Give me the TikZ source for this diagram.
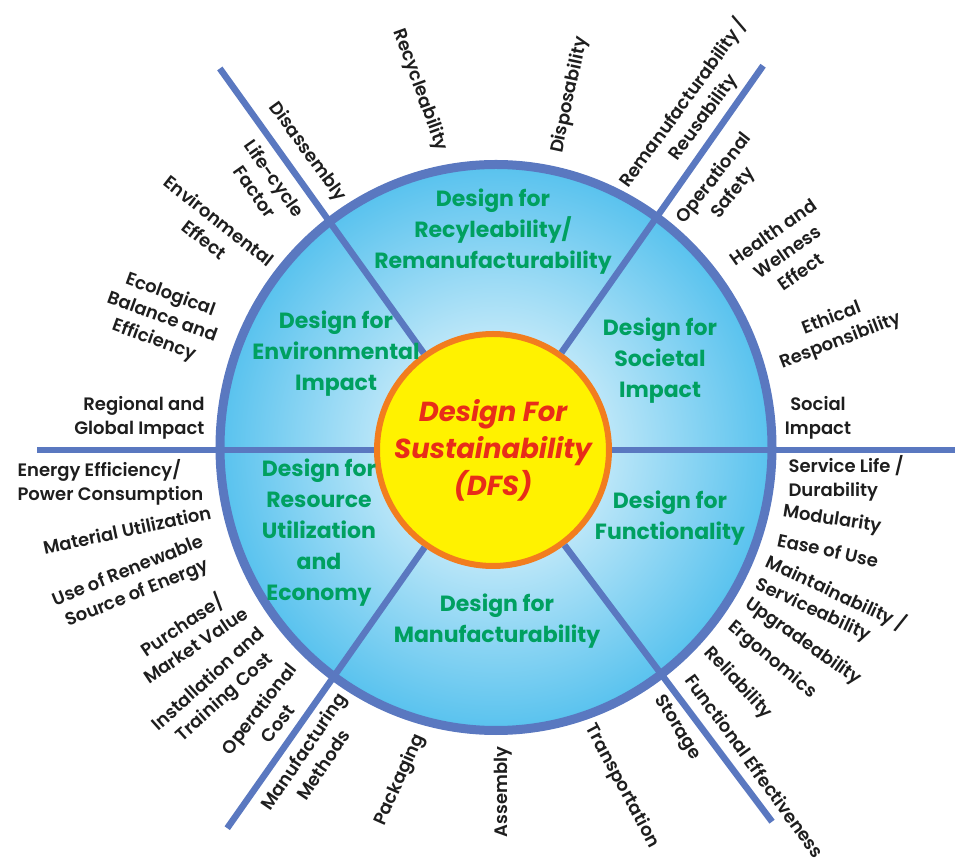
\documentclass[tikz,border=0pt]{standalone}
\usepackage{fontspec}
\setmainfont{Poppins}
\newfontfamily\itemfont{Poppins SemiBold}
\usepackage{tikz}
\usetikzlibrary{shapes.geometric}
\definecolor{ringblue}{RGB}{90,120,192}
\definecolor{skyfill}{RGB}{88,194,238}
\definecolor{dfsgreen}{RGB}{0,160,96}
\definecolor{dfsred}{RGB}{232,45,25}
\definecolor{dfsorange}{RGB}{242,125,30}
\definecolor{dfsyellow}{RGB}{255,242,0}
\definecolor{labgray}{RGB}{30,30,30}
\tikzset{
	spoke/.style={ringblue,line width=6.5pt},
	hub/.style={circle,draw=dfsorange,fill=dfsyellow,line width=6pt,minimum size=232pt,inner sep=0pt,
		text=dfsred,font=\fontsize{27.5}{37}\selectfont\bfseries\itshape,align=center},
	sectortitle/.style={dfsgreen,font=\fontsize{22}{31}\selectfont\bfseries,align=center},
	itemlabel/.style={labgray,font=\fontsize{18}{24}\selectfont\itemfont,align=center}
}

\begin{document}
\begin{tikzpicture}[x=1pt,y=1pt]
			\useasboundingbox (-496,-408) rectangle (459,450);
			% ring
			\draw [ringblue,line width=9pt,inner color=white,outer color=skyfill] (0,2.5) ellipse [x radius=276,y radius=283];
			
			\coordinate (nw) at (125.9:471);
			\coordinate (ne) at (55.2:468);
			\coordinate (sw) at (234.6:464);
			\coordinate (se) at (-53.4:463);
			\coordinate (ww) at (-459,0);
			\coordinate (ee) at (459,0);
			
			\node[hub] (dfs) at (-3,0) {Design For\\Sustainability\\(DFS)};
			\draw[spoke] (dfs) -- (nw);
			\draw[spoke] (dfs) -- (ne);
			\draw[spoke] (dfs) -- (sw);
			\draw[spoke] (dfs) -- (se);
			\draw[spoke] (dfs) -- (ww);
			\draw[spoke] (dfs) -- (ee);
			
			% sectors
			\node[sectortitle] (recyt) at (-3,218) {Design for\\Recyleability/\\Remanufacturability};
			\node[sectortitle] (envt) at (-160,96) {Design for\\Environmental\\Impact};
			\node[sectortitle] (soct) at (164,89) {Design for\\Societal\\Impact};
			\node[sectortitle] (rest) at (-177,-83) {Design for\\Resource\\Utilization\\and\\Economy};
			\node[sectortitle] (funt) at (174,-68) {Design for\\Functionality};
			\node[sectortitle] (mant) at (1,-171) {Design for\\Manufacturability};
			
			% top
			\node[itemlabel,rotate=-70] (recyc) at (-76,360) {Recycleability};
			\node[itemlabel,rotate=78] (dispo) at (74,355) {Disposability};
			\node[itemlabel,rotate=54] (reman) at (197,340) {Remanufacturability /\\Reusability};
			\node[itemlabel,rotate=-54] (disas) at (-189,298) {Disassembly};
			% upper right
			\node[itemlabel,rotate=52] (opsaf) at (228,264) {Operational\\Safety};
			\node[itemlabel,rotate=35] (health) at (291,198) {Health and\\Welness\\Effect};
			\node[itemlabel,rotate=21] (ethic) at (340,120) {Ethical\\Responsibility};
			\node[itemlabel] (social) at (322,32) {Social\\Impact};
			% upper left
			\node[itemlabel,rotate=-55] (lifec) at (-231,265) {Life-cycle\\Factor};
			\node[itemlabel,rotate=-38] (enveff) at (-284,220) {Environmental\\Effect};
			\node[itemlabel,rotate=-20] (ecolo) at (-334,132) {Ecological\\Balance and\\Efficiency};
			\node[itemlabel,align=right,anchor=east] (region) at (-288,32) {Regional and\\Global Impact};
			% lower left
			\node[itemlabel,align=left,anchor=west] (energy) at (-482,-32) {Energy Efficiency/\\Power Consumption};
			\node[itemlabel,rotate=12] (mater) at (-369,-80) {Material Utilization};
			\node[itemlabel,rotate=22] (renew) at (-363,-133) {Use of Renewable\\Source of Energy};
			\node[itemlabel,rotate=34] (purch) at (-308,-184) {Purchase/\\Market Value};
			\node[itemlabel,rotate=42] (instal) at (-279,-239) {Installation and\\Training Cost};
			\node[itemlabel,rotate=52] (opcost) at (-228,-266) {Operational\\Cost};
			% bottom
			\node[itemlabel,rotate=56] (mmeth) at (-183,-308) {Manufacturing\\Methods};
			\node[itemlabel,rotate=66] (packa) at (-96,-330) {Packaging};
			\node[itemlabel,rotate=90] (assem) at (7,-342) {Assembly};
			\node[itemlabel,rotate=-62] (trans) at (126,-336) {Transportation};
			\node[itemlabel,rotate=-58] (stora) at (181,-278) {Storage};
			% lower right
			\node[itemlabel,rotate=-54] (funeff) at (259,-316) {Functional Effectiveness};
			\node[itemlabel,rotate=-47] (relia) at (242,-233) {Reliability};
			\node[itemlabel,rotate=-40] (ergon) at (276,-210) {Ergonomics};
			\node[itemlabel,rotate=-35] (upgra) at (307,-192) {Upgradeability};
			\node[itemlabel,rotate=-25,align=left] (maint) at (335,-154) {Maintainability /\\Serviceability};
			\node[itemlabel,rotate=-12] (ease) at (332,-100) {Ease of Use};
			\node[itemlabel,rotate=-9] (modul) at (336,-70) {Modularity};
			\node[itemlabel,align=left,anchor=west] (servl) at (289,-28) {Service Life /\\Durability};
		\end{tikzpicture}
\end{document}
